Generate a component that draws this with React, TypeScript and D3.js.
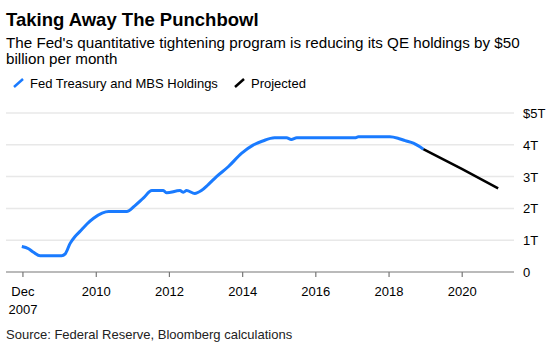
import React, { useEffect, useRef } from 'react';
import * as d3 from 'd3';

// Fed Treasury + MBS holdings, $ trillions
const histDates = [
  '2007-12-20', '2008-02-25', '2008-04-15', '2008-06-20', '2009-01-20', '2009-02-25',
  '2009-04-15', '2009-06-01', '2009-07-20', '2009-09-30', '2009-12-05', '2010-02-28',
  '2010-05-05', '2010-11-01', '2011-01-20', '2011-04-15', '2011-07-10', '2011-11-01',
  '2011-12-05', '2012-04-15', '2012-05-20', '2012-06-20', '2012-09-10', '2012-11-15',
  '2013-01-20', '2013-04-15', '2013-08-10', '2013-12-20', '2014-04-15', '2014-07-20',
  '2014-11-15', '2015-03-15', '2015-05-01', '2015-06-25', '2017-01-25', '2017-03-01',
  '2018-01-10', '2018-04-05', '2018-06-10', '2018-09-01', '2018-12-10',
];
const histValues = [
  0.80, 0.73, 0.62, 0.51, 0.51, 0.57,
  0.90, 1.11, 1.27, 1.51, 1.69, 1.85,
  1.90, 1.90, 2.08, 2.32, 2.56, 2.56,
  2.49, 2.56, 2.51, 2.56, 2.47, 2.56,
  2.74, 3.00, 3.31, 3.73, 3.99, 4.12,
  4.22, 4.22, 4.17, 4.22, 4.22, 4.25,
  4.25, 4.20, 4.13, 4.05, 3.86,
];
const projDates = ['2018-12-10', '2019-12-28', '2020-12-25'];
const projValues = [3.86, 3.24, 2.63];

const xTickDates = ['2007-12-31', '2010-01-01', '2012-01-01', '2014-01-01', '2016-01-01', '2018-01-01', '2020-01-01'];
const xTickLabels = ['Dec', '2010', '2012', '2014', '2016', '2018', '2020'];
const yTicks = [0, 1, 2, 3, 4, 5];
const yTickLabels = ['0', '1T', '2T', '3T', '4T', '$5T'];

const W = 548;
const H = 350;
const FONT = '"Liberation Sans", Arial, sans-serif';

export default function App() {
  const ref = useRef<SVGSVGElement>(null);

  useEffect(() => {
    const svg = d3.select(ref.current);
    svg.selectAll('*').remove();
    const parse = d3.timeParse('%Y-%m-%d');

    const left = 6, right = 514, top = 113, bottom = 272;
    const x = d3.scaleTime()
      .domain([parse('2007-07-15')!, parse('2021-06-01')!])
      .range([left, right]);
    const y = d3.scaleLinear().domain([0, 5]).range([bottom, top]);

    // titles
    svg.append('text').attr('x', 6).attr('y', 26).text('Taking Away The Punchbowl')
      .attr('font-size', 18.5).attr('font-weight', 'bold').attr('fill', '#000');
    svg.append('text').attr('x', 6).attr('y', 47.5)
      .text("The Fed's quantitative tightening program is reducing its QE holdings by $50")
      .attr('font-size', 15.2).attr('fill', '#000');
    svg.append('text').attr('x', 6).attr('y', 64)
      .text('billion per month')
      .attr('font-size', 15.2).attr('fill', '#000');

    // legend
    const legend = [
      { label: 'Fed Treasury and MBS Holdings', color: '#1a7bff', x: 14 },
      { label: 'Projected', color: '#000', x: 235 },
    ];
    legend.forEach(l => {
      svg.append('line').attr('x1', l.x).attr('y1', 87).attr('x2', l.x + 9).attr('y2', 79)
        .attr('stroke', l.color).attr('stroke-width', 2.5);
      svg.append('text').attr('x', l.x + 16).attr('y', 87.5).text(l.label)
        .attr('font-size', 13).attr('fill', '#000');
    });

    // gridlines
    svg.append('g').selectAll('line').data(yTicks.slice(1)).enter().append('line')
      .attr('x1', left).attr('x2', right)
      .attr('y1', d => y(d)).attr('y2', d => y(d))
      .attr('stroke', '#e8e8e8').attr('stroke-width', 1.5);

    // y labels
    svg.append('g').selectAll('text').data(yTicks).enter().append('text')
      .attr('x', 523).attr('y', d => y(d) + 5)
      .text((d, i) => yTickLabels[i])
      .attr('font-size', 13).attr('fill', '#000');

    // x axis
    svg.append('line').attr('x1', left).attr('x2', right).attr('y1', bottom).attr('y2', bottom)
      .attr('stroke', '#777').attr('stroke-width', 1.2);
    const xt = svg.append('g').selectAll('g').data(xTickDates).enter().append('g')
      .attr('transform', d => `translate(${x(parse(d)!)},0)`);
    xt.append('line').attr('y1', bottom).attr('y2', bottom + 5).attr('stroke', '#777').attr('stroke-width', 1.2);
    xt.append('text').attr('y', bottom + 24).attr('text-anchor', 'middle')
      .text((d, i) => xTickLabels[i]).attr('font-size', 13).attr('fill', '#000');
    svg.append('text').attr('x', x(parse(xTickDates[0])!)).attr('y', bottom + 42)
      .attr('text-anchor', 'middle').text('2007').attr('font-size', 13).attr('fill', '#000');

    // lines
    const line = d3.line<[string, number]>()
      .x(d => x(parse(d[0])!))
      .y(d => y(d[1]))
      .curve(d3.curveMonotoneX);
    svg.append('path').datum(histDates.map((d, i) => [d, histValues[i]] as [string, number]))
      .attr('d', line).attr('fill', 'none').attr('stroke', '#1a7bff').attr('stroke-width', 3)
      .attr('stroke-linejoin', 'round');
    svg.append('path').datum(projDates.map((d, i) => [d, projValues[i]] as [string, number]))
      .attr('d', line).attr('fill', 'none').attr('stroke', '#000').attr('stroke-width', 2.5);

    // source
    svg.append('text').attr('x', 6).attr('y', 338.5).text('Source: Federal Reserve, Bloomberg calculations')
      .attr('font-size', 13).attr('fill', '#222');
  }, []);

  return (
    <svg ref={ref} width={W} height={H} fontFamily={FONT}
      style={{ position: 'absolute', left: 0, top: 0, background: '#fff' }} />
  );
}
